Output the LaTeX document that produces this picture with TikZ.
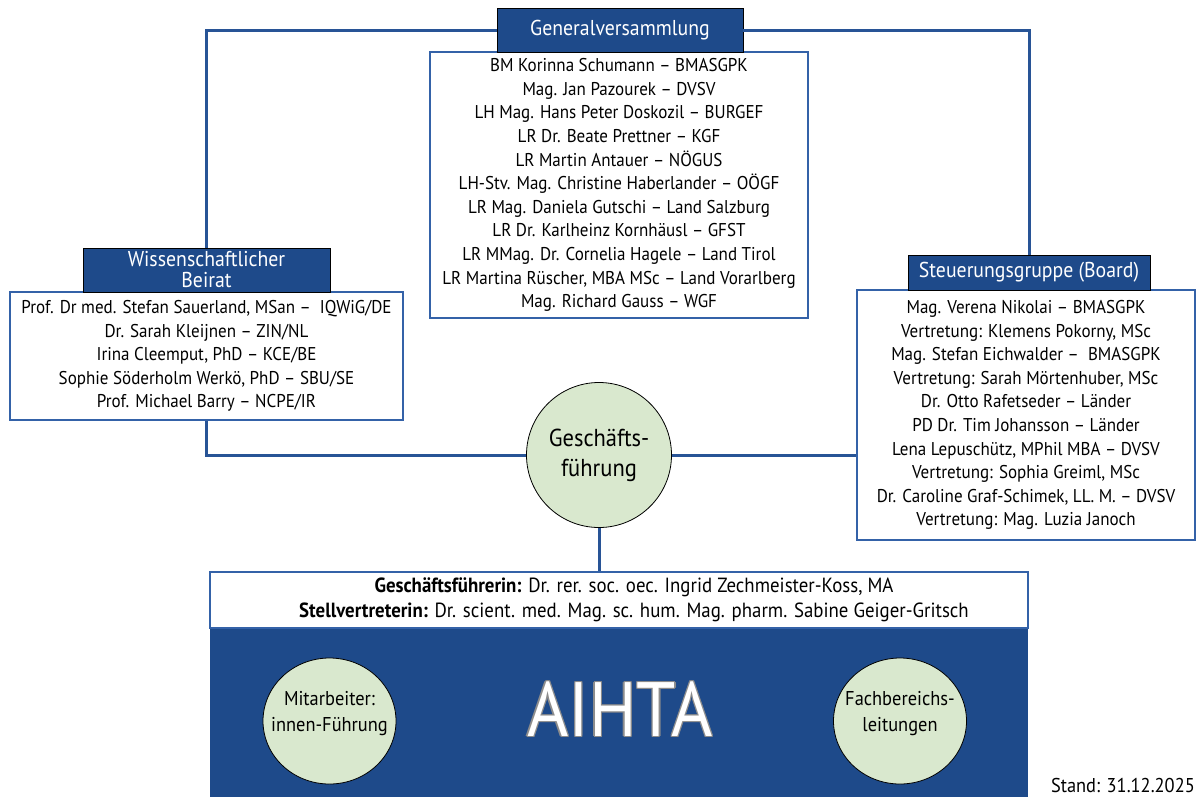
\documentclass[tikz,border=0pt]{standalone}
\usepackage{fontspec}
\setmainfont{PT Sans}
\newfontfamily\narrow[FakeStretch=0.92]{PT Sans}
\usetikzlibrary{shapes.geometric}
\definecolor{hdblue}{RGB}{30,74,138}
\definecolor{lnblue}{RGB}{40,84,150}
\definecolor{bxblue}{RGB}{52,98,168}
\definecolor{bubgreen}{RGB}{217,232,206}
\definecolor{rimgray}{RGB}{140,140,140}
\newcommand\rimtext[1]{\leavevmode
  \rlap{\color{rimgray}\hspace{-1.3pt}#1}\rlap{\color{rimgray}\hspace{1.3pt}#1}%
  \rlap{\color{rimgray}\raisebox{1.3pt}{#1}}\rlap{\color{rimgray}\raisebox{-1.3pt}{#1}}%
  \rlap{\color{rimgray}\hspace{1pt}\raisebox{1pt}{#1}}\rlap{\color{rimgray}\hspace{-1pt}\raisebox{-1pt}{#1}}%
  \rlap{\color{rimgray}\hspace{1pt}\raisebox{-1pt}{#1}}\rlap{\color{rimgray}\hspace{-1pt}\raisebox{1pt}{#1}}#1}
\newcommand\blobtext[1]{\makebox[0pt]{\raisebox{8pt}[\height][\depth]{\begin{tabular}{@{}c@{}}#1\end{tabular}}}}
\tikzset{
  head/.style={draw=black,fill=hdblue,text=white,inner sep=0pt,align=center,font=\narrow\fontsize{21.5}{21}\selectfont},
  list/.style={draw=bxblue,line width=1.5pt,fill=white,inner sep=0pt,align=center,font=\narrow\fontsize{18.5}{23.6}\selectfont},
  link/.style={draw=lnblue,line width=3pt},
  bubble/.style={circle,draw=black,line width=0.8pt,fill=bubgreen,inner sep=0pt,align=center},
  blob/.style={ellipse,draw=black,line width=0.8pt,fill=bubgreen,inner sep=0pt,minimum width=133,minimum height=126,font=\narrow\fontsize{20}{26}\selectfont}
}
\begin{document}
\begin{tikzpicture}[x=1pt,y=-1pt]
\useasboundingbox (0,0) rectangle (1198,796);
\node[list,minimum width=378,minimum height=266] (gvl) at (619,185) {BM Korinna Schumann – BMASGPK\\Mag. Jan Pazourek – DVSV\\LH Mag. Hans Peter Doskozil – BURGEF\\LR Dr. Beate Prettner – KGF\\LR Martin Antauer – NÖGUS\\LH-Stv. Mag. Christine Haberlander – OÖGF\\LR Mag. Daniela Gutschi – Land Salzburg\\LR Dr. Karlheinz Kornhäusl – GFST\\LR MMag. Dr. Cornelia Hagele – Land Tirol\\LR Martina Rüscher, MBA MSc – Land Vorarlberg\\Mag. Richard Gauss – WGF};
\node[head,minimum width=246,minimum height=44] (gvh) at (620,30) {Generalversammlung};
\node[list,minimum width=393,minimum height=128] (wbl) at (206.5,356) {Prof. Dr med. Stefan Sauerland, MSan –\ \ IQWiG/DE\\Dr. Sarah Kleijnen – ZIN/NL\\Irina Cleemput, PhD – KCE/BE\\Sophie Söderholm Werkö, PhD – SBU/SE\\Prof. Michael Barry – NCPE/IR};
\node[head,minimum width=247,minimum height=44] (wbh) at (206.5,270) {Wissenschaftlicher\\Beirat};
\node[list,minimum width=338,minimum height=250] (stl) at (1026,415) {Mag. Verena Nikolai – BMASGPK\\Vertretung: Klemens Pokorny, MSc\\Mag. Stefan Eichwalder –\ \ BMASGPK\\Vertretung: Sarah Mörtenhuber, MSc\\Dr. Otto Rafetseder – Länder\\PD Dr. Tim Johansson – Länder\\Lena Lepuschütz, MPhil MBA – DVSV\\Vertretung: Sophia Greiml, MSc\\Dr. Caroline Graf-Schimek, LL. M. – DVSV\\Vertretung: Mag. Luzia Janoch};
\node[head,minimum width=242,minimum height=35] (sth) at (1029,272.5) {Steuerungsgruppe (Board)};
\node[bubble,minimum size=145,font=\narrow\fontsize{24.5}{30}\selectfont] (gf) at (599,455) {Geschäfts-\\führung};
\node[list,minimum width=818,minimum height=56] (gfl) at (619,600) {};
\node[inner sep=0pt,align=center,font=\narrow\fontsize{20.5}{25}\selectfont] (gfn) at (634,600) {\textbf{Geschäftsführerin:} Dr. rer. soc. oec. Ingrid Zechmeister-Koss, MA\\\textbf{Stellvertreterin:} Dr. scient. med. Mag. sc. hum. Mag. pharm. Sabine Geiger-Gritsch};
\node[fill=hdblue,inner sep=0pt,minimum width=818,minimum height=168,anchor=north] (team) at (gfl.south) {};
\node[blob] (mf) at (329.5,721) {\blobtext{Mitarbeiter:\\innen-Führung}};
\node[blob] (fb) at (900,721) {\blobtext{Fachbereichs-\\leitungen}};
\node[text=white,inner sep=0pt,font=\narrow\fontsize{77}{77}\selectfont] (aihta) at (620,709) {\rimtext{AIHTA}};
\node[anchor=south east,inner sep=0pt,font=\narrow\fontsize{20}{20}\selectfont] (stand) at (1195,793) {Stand: 31.12.2025};
\draw[link] (gvh.west) -| (wbh.north);
\draw[link] (gvh.east) -| (sth.north);
\draw[link] (wbl.south) |- (gf.west);
\draw[link] (gf.east) -- (gf.east -| stl.west);
\draw[link] (gf.south) -- (gf.south |- gfl.north);
\end{tikzpicture}
\end{document}
